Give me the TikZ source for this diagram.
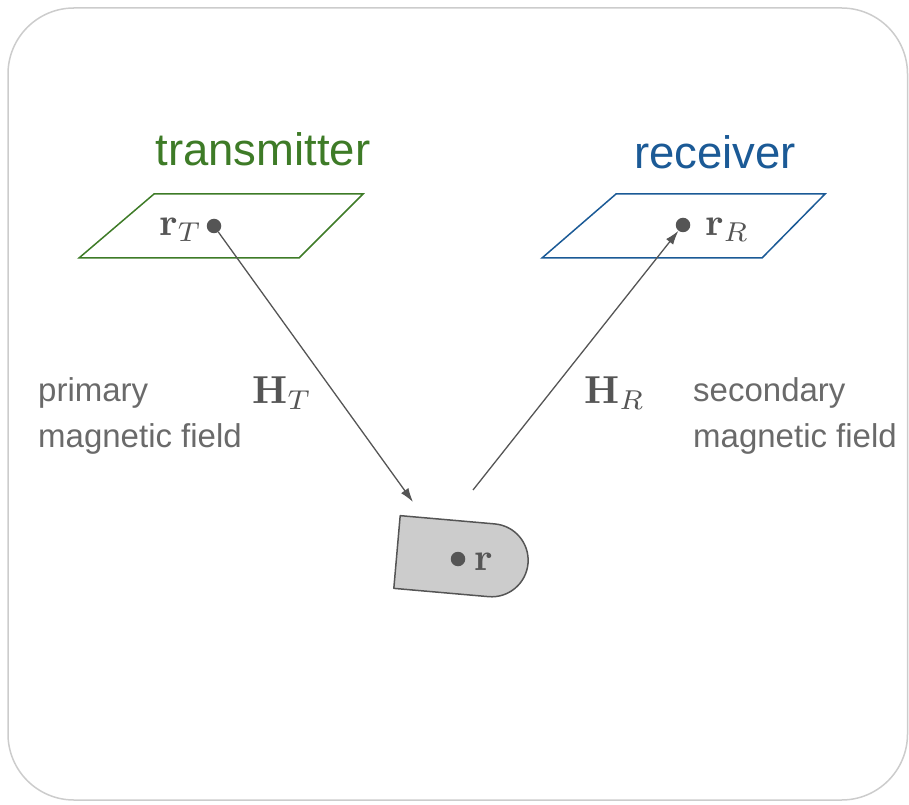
\documentclass[tikz,border=0pt]{standalone}
\usepackage[no-math]{fontspec}
\usepackage{graphicx}
\setmainfont{Liberation Sans}
\usetikzlibrary{arrows.meta}
\definecolor{txgreen}{HTML}{3E7B27}
\definecolor{rxblue}{HTML}{1B5A96}
\definecolor{ink}{HTML}{555555}
\definecolor{softtext}{HTML}{6A6A6A}
\definecolor{framegray}{HTML}{CCCCCC}
\definecolor{bodyfill}{HTML}{CCCCCC}
\newcommand{\bigmath}[1]{\scalebox{3.9}{$#1$}}
\tikzset{
  title/.style={inner sep=0pt, anchor=base, font=\fontsize{45.5}{50}\selectfont},
  side/.style={inner sep=0pt, anchor=north west, align=left, text=softtext,
               font=\fontsize{33}{46}\selectfont},
  mathlbl/.style={inner sep=0pt, anchor=base west, text=ink,
                  font=\fontsize{10}{12}\selectfont},
  loop/.style={line width=1.5pt, line join=miter},
  spot/.style={circle, fill=ink, inner sep=0pt, minimum size=14.5pt},
  field/.style={draw=ink, line width=1.3pt,
                -{Latex[length=14pt, width=9pt]}},
}
\begin{document}
\begin{tikzpicture}[x=1pt, y=1pt]
  \useasboundingbox (0,0) rectangle (909,804);
  % outer frame
  \draw[framegray, line width=1.5pt, rounded corners=66pt]
    (8,4) rectangle (907.5,796);

  % headings
  \node[title, text=txgreen] (ttitle) at (263,638) {transmitter};
  \node[title, text=rxblue]  (rtitle) at (715,635) {receiver};

  % transmitter and receiver loops
  \draw[loop, txgreen] (79,546) -- (299,546) -- (363,610) -- (154,610) -- cycle;
  \draw[loop, rxblue]  (542,546) -- (762,546) -- (825,610) -- (616,610) -- cycle;

  % loop positions
  \node[spot] (rT) at (214,578) {};
  \node[mathlbl] (rTlbl) at (159,568) {\bigmath{\mathbf{r}_T}};
  \node[spot] (rR) at (683,579) {};
  \node[mathlbl] (rRlbl) at (705,568) {\bigmath{\mathbf{r}_R}};

  % buried body
  \begin{scope}[shift={(397,252)}, rotate=-5]
    \draw[fill=bodyfill, draw=ink, line width=1.5pt, line join=round]
      (0,36.5) -- (95,36.5) arc[start angle=90, end angle=-90, radius=36.5]
      -- (0,-36.5) -- cycle;
  \end{scope}
  \node[spot] (r) at (458,245) {};
  \node[mathlbl] (rlbl) at (474,234) {\bigmath{\mathbf{r}}};

  % field paths
  \coordinate (hitT) at (413,302);
  \coordinate (outR) at (473,314);
  \draw[field] (rT) -- (hitT);
  \draw[field] (outR) -- (rR);

  % field labels
  \node[mathlbl] (HT) at (252,400) {\bigmath{\mathbf{H}_T}};
  \node[mathlbl] (HR) at (584,400) {\bigmath{\mathbf{H}_R}};
  \node[side] (prim) at (38,427) {primary\\magnetic field};
  \node[side] (sec)  at (693,427) {secondary\\magnetic field};
\end{tikzpicture}
\end{document}
